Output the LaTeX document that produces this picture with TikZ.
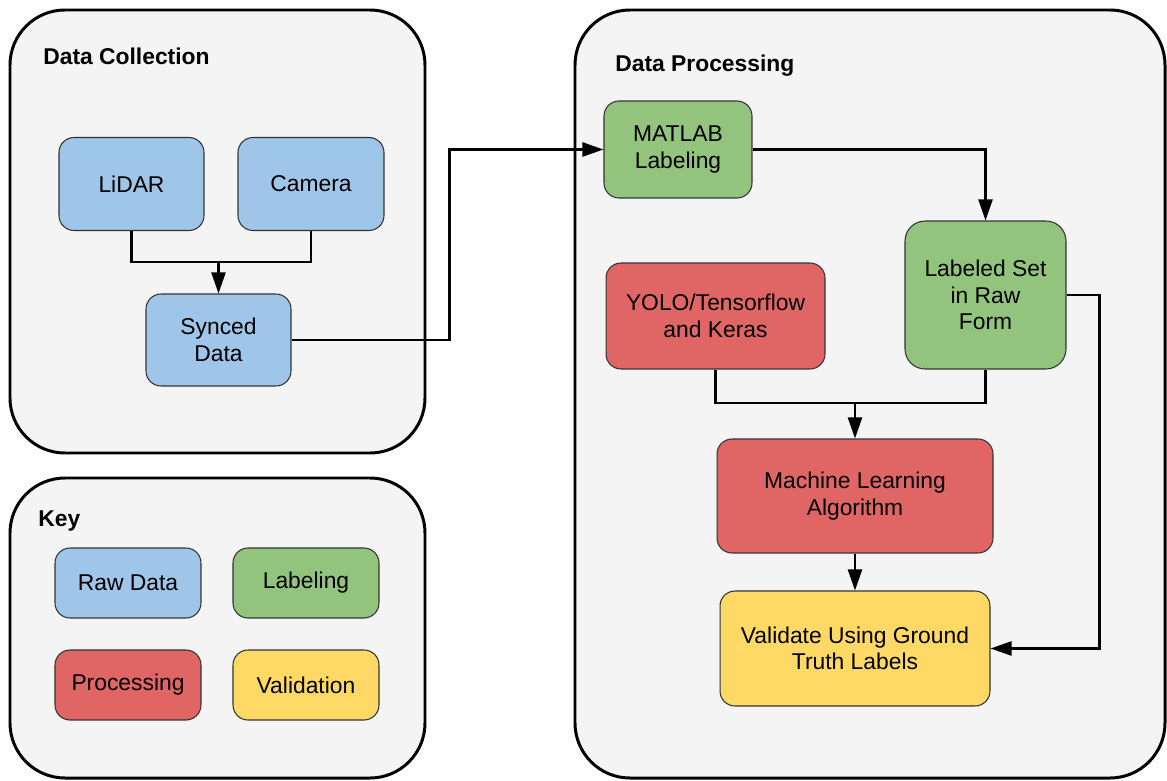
\documentclass[tikz,border=0pt]{standalone}
\usepackage{fontspec}
\setmainfont{Liberation Sans}
\definecolor{rawblue}{HTML}{9FC5E8}
\definecolor{labelgreen}{HTML}{93C47D}
\definecolor{procred}{HTML}{E06666}
\definecolor{valyellow}{HTML}{FFD966}
\definecolor{panelgray}{HTML}{F4F4F4}
\definecolor{edgegray}{HTML}{333333}
\usetikzlibrary{arrows.meta,positioning,calc}
\begin{document}
\begin{tikzpicture}[x=0.02cm,y=-0.02cm,
    panel/.style={draw=black,line width=1.7pt,fill=panelgray,rounded corners=1.1cm},
    title/.style={anchor=west,inner sep=0pt,font=\fontsize{13}{15}\selectfont\bfseries},
    box/.style={draw=edgegray,line width=0.6pt,rounded corners=0.3cm,align=center,
        font=\fontsize{13}{15}\selectfont,inner sep=2pt},
    rawbox/.style={box,fill=rawblue},
    labelbox/.style={box,fill=labelgreen},
    procbox/.style={box,fill=procred},
    valbox/.style={box,fill=valyellow},
    wire/.style={line width=1.3pt},
    link/.style={wire,-{Triangle[length=12pt,width=8pt]}}]
    \useasboundingbox (0,0) rectangle (1167,781);
    % panels
    \draw[panel] (10,10) rectangle (425,453);
    \draw[panel] (10,478) rectangle (425,778);
    \draw[panel] (575,10) rectangle (1165,778);
    \node[title] (tcollect) at (43,56) {Data Collection};
    \node[title] (tkey) at (38,521) {Key};
    \node[title] (tprocess) at (615,66) {Data Processing};
    % data collection
    \node[rawbox,minimum width=2.9cm,minimum height=1.86cm] (lidar) at (131.5,184) {LiDAR};
    \node[rawbox,minimum width=2.92cm,minimum height=1.86cm] (camera) at (311,184) {Camera};
    \node[rawbox,minimum width=2.9cm,minimum height=1.84cm] (synced) at (218.5,340) {Synced\\Data};
    \coordinate (merge) at (218.5,262);
    \draw[wire] (lidar.south) |- (merge) -| (camera.south);
    \draw[link] (merge) -- (synced.north);
    % key
    \node[rawbox,minimum width=2.92cm,minimum height=1.4cm] (kraw) at (128,583) {Raw Data};
    \node[labelbox,minimum width=2.92cm,minimum height=1.4cm] (klabel) at (306,583) {Labeling};
    \node[procbox,minimum width=2.92cm,minimum height=1.4cm] (kproc) at (128,685) {Processing};
    \node[valbox,minimum width=2.92cm,minimum height=1.4cm] (kval) at (306,685) {Validation};
    % data processing
    \node[labelbox,minimum width=2.96cm,minimum height=1.94cm] (matlab) at (678,149.5) {MATLAB\\Labeling};
    \node[labelbox,minimum width=3.22cm,minimum height=2.96cm,rounded corners=0.4cm] (labeled) at (985.5,295) {Labeled Set\\in Raw\\Form};
    \node[procbox,minimum width=4.38cm,minimum height=2.12cm] (yolo) at (715.5,316) {YOLO/Tensorflow\\and Keras};
    \node[procbox,minimum width=5.52cm,minimum height=2.28cm] (ml) at (855,496) {Machine Learning\\Algorithm};
    \node[valbox,minimum width=5.4cm,minimum height=2.3cm] (validate) at (855,648.5) {Validate Using Ground\\Truth Labels};
    \coordinate (join) at (855,403);
    \draw[link] (synced.east) -- ++(158,0) |- (matlab.west);
    \draw[link] (matlab.east) -| (labeled.north);
    \draw[wire] (yolo.south) |- (join) -| (labeled.south);
    \draw[link] (join) -- (ml.north);
    \draw[link] (ml.south) -- (validate.north);
    \draw[link] (labeled.east) -- ++(33,0) |- (validate.east);
\end{tikzpicture}
\end{document}
